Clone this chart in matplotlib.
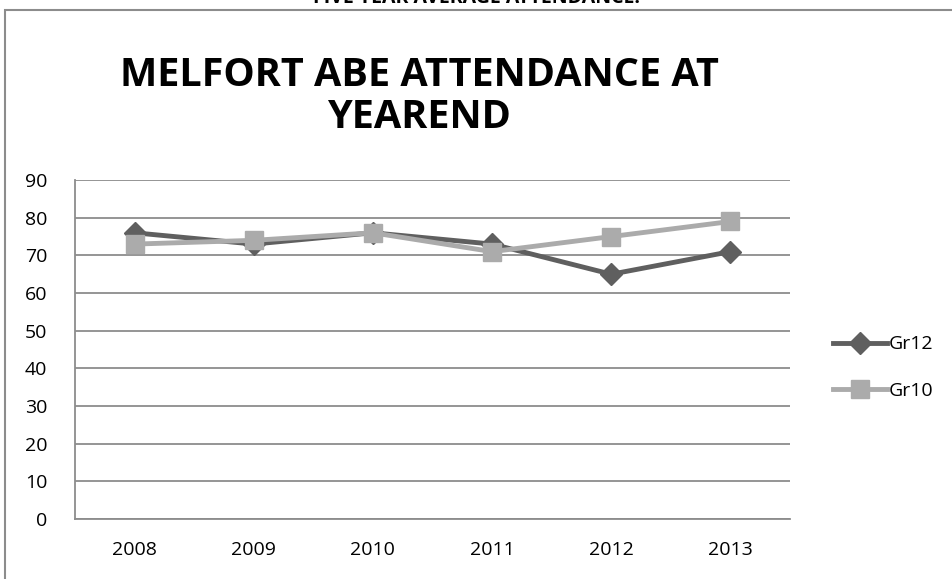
import matplotlib.pyplot as plt
from matplotlib.patches import Rectangle

years = ['2008', '2009', '2010', '2011', '2012', '2013']
gr12 = [76, 73, 76, 73, 65, 71]
gr10 = [73, 74, 76, 71, 75, 79]

plt.rcParams['font.family'] = ['Open Sans', 'DejaVu Sans']

fig = plt.figure(figsize=(9.53, 5.79), dpi=100)
ax = fig.add_axes([0.0787, 0.1036, 0.7503, 0.5854])

# outer chart frame
fig.patches.append(Rectangle((5 / 953, -0.1), 1.2, (579 - 10) / 579 + 0.1,
                             transform=fig.transFigure, fill=False,
                             edgecolor='#8c8c8c', linewidth=1.5))

x = range(len(years))
ax.plot(x, gr12, color='#5f5f5f', linewidth=3.5, marker='D', markersize=11,
        label='Gr12', zorder=3)
ax.plot(x, gr10, color='#ababab', linewidth=3.5, marker='s', markersize=13,
        label='Gr10', zorder=4)

ax.set_xlim(-0.5, len(years) - 0.5)
ax.set_ylim(0, 90)
ax.set_yticks(range(0, 91, 10))
ax.set_xticks(list(x))
ax.set_xticklabels(years)
ax.yaxis.grid(True, color='#8c8c8c', linewidth=1.3)
ax.set_axisbelow(True)
ax.tick_params(axis='both', length=0, labelsize=14)
ax.tick_params(axis='y', pad=20)
ax.tick_params(axis='x', pad=16)
for side in ['top', 'right']:
    ax.spines[side].set_visible(False)
for side in ['left', 'bottom']:
    ax.spines[side].set_color('#8c8c8c')
    ax.spines[side].set_linewidth(1.3)

ax.legend(loc='center left', bbox_to_anchor=(1.035, 0.447), frameon=False,
          fontsize=14, handlelength=2.8, labelspacing=1.45, handletextpad=0.1)

fig.text(0.44, 0.834, 'MELFORT ABE ATTENDANCE AT\nYEAREND', ha='center',
         va='center', fontsize=28.5, fontweight='bold', linespacing=1.1)
fig.text(0.50, 1.003, 'FIVE YEAR AVERAGE ATTENDANCE:', ha='center', va='center',
         fontsize=14, fontweight='bold')

fig.savefig('out.png', dpi=100)
